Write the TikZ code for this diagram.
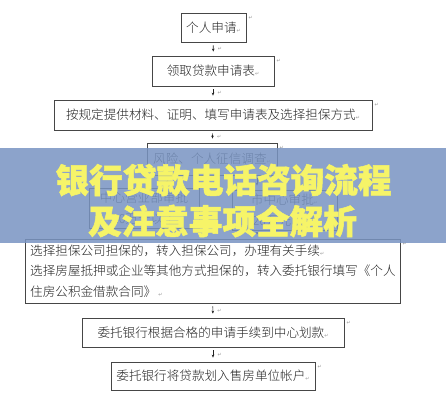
\documentclass[tikz,border=0pt]{standalone}
\usepackage{fontspec}
\newfontfamily\cjk[UprightFont={* Light}]{Noto Sans CJK SC}
\newfontfamily\cjkt[BoldFeatures={FakeBold=1.6}]{Noto Sans CJK SC}
\newfontfamily\dv{DejaVu Sans}
\usetikzlibrary{arrows.meta,calc}
\definecolor{bannerc}{RGB}{121,148,194}
\definecolor{titley}{RGB}{246,244,104}
\definecolor{boxline}{RGB}{70,70,70}
\definecolor{txt}{RGB}{35,35,35}
\definecolor{pmc}{RGB}{150,150,150}
\newcommand{\pmk}{{\dv\fontsize{5}{5}\selectfont\textcolor{pmc}{↵}}}
\begin{document}
\begin{tikzpicture}[x=1pt,y=-1pt,
  box/.style={draw=boxline, line width=0.8pt, inner sep=0pt, font=\cjk\fontsize{12.6}{20.5}\selectfont, text=txt, anchor=center},
  btext/.style={inner sep=0pt, font=\cjk\fontsize{12.6}{20.5}\selectfont, text=txt},
  arr/.style={-{Stealth[length=3pt,width=2.6pt]}, line width=0.6pt, draw=txt, shorten <=3pt, shorten >=4pt},
  pmo/.style={font=\dv\fontsize{5}{5}\selectfont, text=pmc, inner sep=0.5pt, anchor=north west},
  title/.style={font=\cjkt\bfseries\fontsize{33.6}{36}\selectfont, text=titley, inner sep=0pt}]
\useasboundingbox (0,0) rectangle (446,400);
\fill[white] (0,0) rectangle (446,400);
% boxes
\node[box, minimum width=65pt, minimum height=29pt] (b1) at (213.5,27.5) {个人申请\pmk};
\node[box, minimum width=122pt, minimum height=30pt] (b2) at (213,71) {领取贷款申请表\pmk};
\node[box, minimum width=318pt, minimum height=30pt] (b3) at (213,115) {按规定提供材料、证明、填写申请表及选择担保方式\pmk};
\node[box, minimum width=130pt, minimum height=32pt] (b4) at (212,159) {风险、个人征信调查\pmk};
\node[box, minimum width=110pt, minimum height=40pt, align=center] (b5) at (144,208) {中心营业部审批\\20万元以下};
\node[box, minimum width=105pt, minimum height=40pt, align=center] (b6) at (284.5,210) {市中心审批\pmk\\20万元以上};
\node[box, minimum width=375pt, minimum height=64pt] (b7) at (212.5,271) {};
\node[btext, anchor=north west, align=left] (t7) at (30,244.5) {选择担保公司担保的，转入担保公司，办理有关手续\pmk\\选择房屋抵押或企业等其他方式担保的，转入委托银行填写《个人\\住房公积金借款合同》\,\pmk};
\node[box, minimum width=262pt, minimum height=29pt] (b8) at (213,332.5) {委托银行根据合格的申请手续到中心划款\pmk};
\node[box, minimum width=204pt, minimum height=28pt] (b9) at (213,376) {委托银行将贷款划入售房单位帐户\pmk};
% paragraph marks outside boxes
\foreach \b in {b1,b2,b3,b4,b7,b8,b9}{
  \node[pmo] at ([xshift=1.5pt,yshift=-3pt]\b.north east) {↵};
}
% connectors
\draw[arr] (b1) -- (b2);
\draw[arr] (b2) -- (b3);
\draw[arr] (b3) -- (b4);
\draw[arr] ([xshift=-45pt]b4.south) -- ([xshift=-45pt]b4.south |- b5.north);
\draw[arr] ([xshift=45pt]b4.south) -- ([xshift=45pt]b4.south |- b6.north);
\draw[arr] ([xshift=-36pt]b5.south) -- ([xshift=-36pt]b5.south |- b7.north);
\draw[arr] ([xshift=45pt]b4.south |- b6.south) -- ([xshift=45pt]b4.south |- b7.north);
\draw[arr] (b7) -- (b8);
\draw[arr] (b8) -- (b9);
% marks beside arrows
\foreach \a/\c in {b1/b2,b2/b3,b3/b4,b7/b8,b8/b9}{
  \node[pmo, anchor=west] at ([xshift=4pt]$(\a.south)!0.5!(\c.north)$) {↵};
}
% banner
\fill[bannerc, opacity=0.85] (0,148) rectangle (446,243);
\node[title] (t1) at (223.5,180) {银行贷款电话咨询流程};
\node[title] (t2) at (222.5,221) {及注意事项全解析};
\end{tikzpicture}
\end{document}
